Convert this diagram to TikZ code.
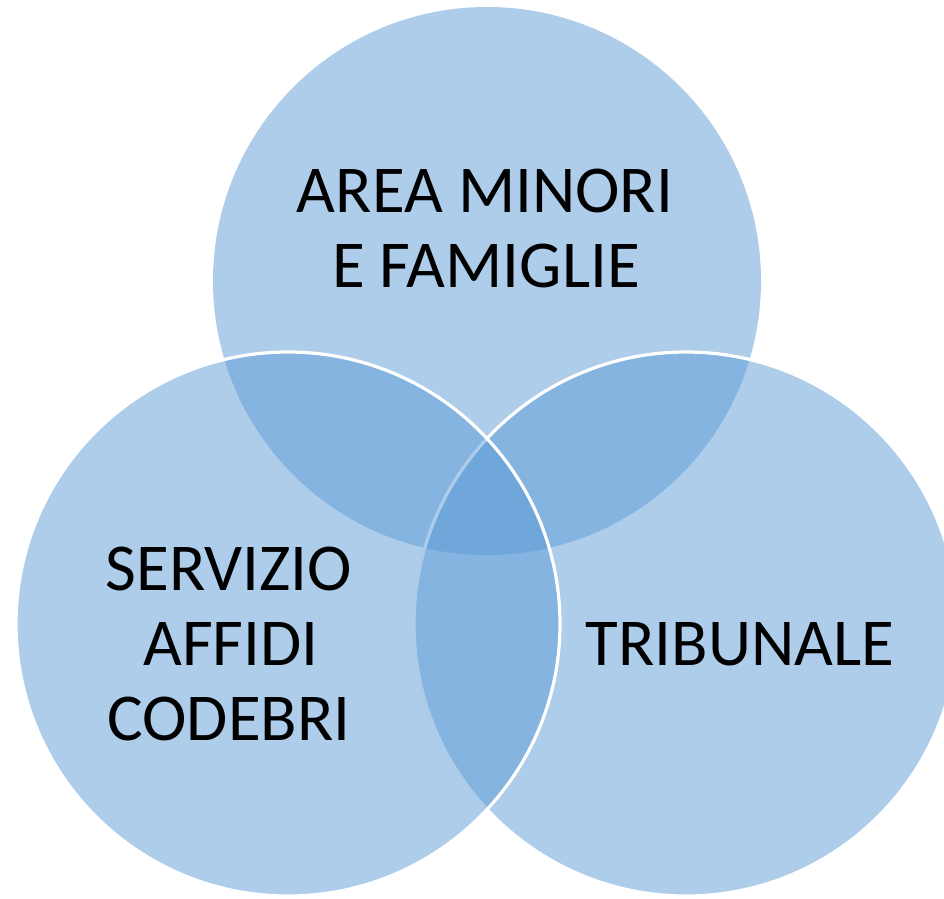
\documentclass[tikz,border=0pt]{standalone}
\usepackage{fontspec}
\setmainfont{Carlito}
\definecolor{venn}{HTML}{5B9BD5}
\begin{document}
\begin{tikzpicture}[x=1pt,y=-1pt,
  vennfill/.style={fill=venn,fill opacity=0.5},
  vennline/.style={draw=white,line width=3.2pt},
  lbl/.style={anchor=base,inner sep=0pt,text=black,font=\fontsize{67}{75}\selectfont}]
\useasboundingbox (0,0) rectangle (944,898);
\coordinate (ctop) at (487,281);
\coordinate (cright) at (686,624);
\coordinate (cleft) at (288,624);
\path[vennfill] (ctop) circle[radius=274];
\path[vennfill,vennline] (cright) circle[radius=272];
\path[vennfill,vennline] (cleft) circle[radius=272];
\node[lbl] (t1) at (485,212) {AREA MINORI};
\node[lbl] (t2) at (486,287) {E FAMIGLIE};
\node[lbl] (l1) at (229,590) {SERVIZIO};
\node[lbl] (l2) at (231,665) {AFFIDI};
\node[lbl] (l3) at (229,740) {CODEBRI};
\node[lbl] (r1) at (740,665) {TRIBUNALE};
\end{tikzpicture}
\end{document}
